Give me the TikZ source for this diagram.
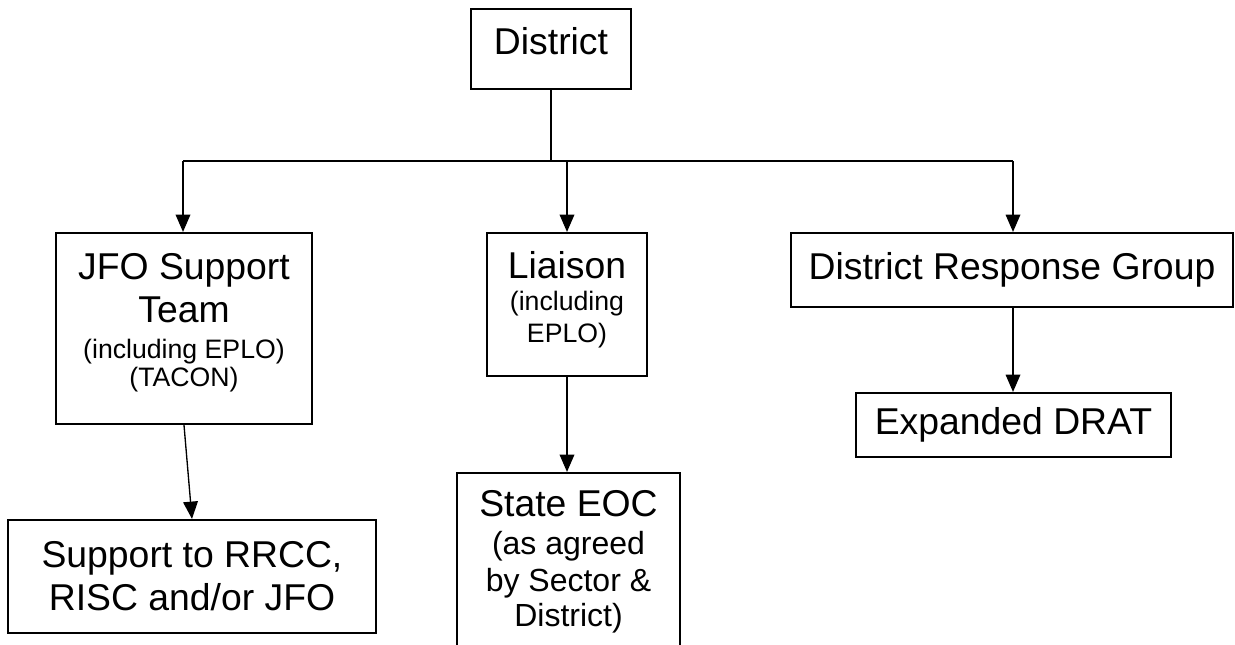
\documentclass[tikz,border=0pt]{standalone}
\usepackage{fontspec}
\setmainfont{Liberation Sans}
\usetikzlibrary{arrows.meta}
\newcommand\fBig{\fontsize{28}{32.25}\selectfont}
\newcommand\fMed{\fontsize{24}{28}\selectfont}
\newcommand\fSm{\fontsize{20}{23}\selectfont}
\begin{document}
\begin{tikzpicture}[x=0.75pt,y=-0.75pt,
  box/.style={draw, line width=1.6pt, inner sep=0pt, align=center, font=\fBig},
  conn/.style={line width=1pt},
  arr/.style={conn, -{Triangle[length=13pt,width=11pt]}}]
\useasboundingbox (0,0) rectangle (1235,644);
\clip (0,0) rectangle (1235,644);
% boxes
\node[box, minimum width=120pt, minimum height=60pt, text depth=12.75pt] (district) at (551,49) {District};
\node[box, minimum width=192pt, minimum height=143.25pt, text depth=13.2pt] (jfo) at (184,328.5)
  {JFO Support\\ Team\\[-5.25pt] {\fSm (including EPLO)}\\[-11.25pt] {\fSm (TACON)}};
\node[box, minimum width=120pt, minimum height=107.25pt, text depth=11.7pt] (liaison) at (567,304.5)
  {Liaison\\[-8.25pt] {\fSm (including}\\[-8.25pt] {\fSm EPLO)}};
\node[box, minimum width=331.5pt, minimum height=55.5pt] (drg) at (1012,270) {District Response Group};
\node[box, minimum width=236.25pt, minimum height=48pt] (drat) at (1013.5,425) {Expanded DRAT};
\node[box, minimum width=276pt, minimum height=84.75pt] (support) at (192,576.5)
  {Support to RRCC,\\ RISC and/or JFO};
\node[box, minimum width=167.25pt, minimum height=132.75pt] (eoc) at (568.5,561.5)
  {State EOC\\[-4pt] {\fMed (as agreed}\\[-4.5pt] {\fMed by Sector \&}\\[-6pt] {\fMed District)}};
% connectors
\coordinate (busL) at (183,161);
\coordinate (busR) at (1013,161);
\draw[conn] (district.south) -- (district.south |- busL);
\draw[conn] (busL) -- (busR);
\draw[arr] (busL) -- (busL |- jfo.north);
\draw[arr] (liaison.north |- busL) -- (liaison.north);
\draw[arr] (busR) -- (busR |- drg.north);
\draw[arr] (jfo.south) -- (support.north);
\draw[arr] (liaison.south) -- (liaison.south |- eoc.north);
\draw[arr] (drg.south -| busR) -- (drat.north -| busR);
\end{tikzpicture}
\end{document}
